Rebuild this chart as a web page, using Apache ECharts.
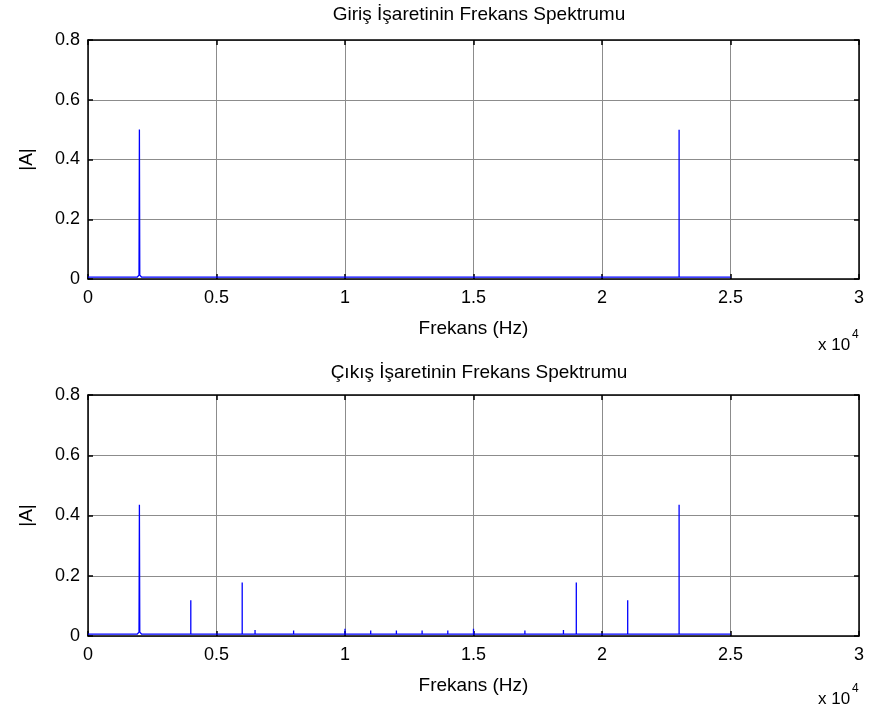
<!DOCTYPE html>
<html>
<head>
<meta charset="utf-8">
<title>Frekans Spektrumu</title>
<script src="https://cdn.jsdelivr.net/npm/echarts@6/dist/echarts.min.js"></script>
<style>
	html, body { margin: 0; padding: 0; background: #fff; }
	#main { width: 875px; height: 718px; }
</style>
</head>
<body>
<div id="main"></div>
<script>
// values
var titles = ['Giriş İşaretinin Frekans Spektrumu', 'Çıkış İşaretinin Frekans Spektrumu'];
var xTicks = [0, 5000, 10000, 15000, 20000, 25000, 30000];
var yTicks = [0, 0.2, 0.4, 0.6, 0.8];
var noiseFloor = 0.006;
var freqEnd = 25000;

// giris
var inFreq = [2000, 23000];
var inAmp = [0.5, 0.5];
var inShoulder = [0.013, 0];

// cikis
var outFreq = [2000, 4000, 6000, 6500, 8000, 10000, 11000, 12000, 13000, 14000, 15000, 17000, 18500, 19000, 21000, 23000];
var outAmp = [0.436, 0.119, 0.178, 0.02, 0.018, 0.024, 0.018, 0.018, 0.018, 0.018, 0.024, 0.018, 0.02, 0.178, 0.119, 0.436];
var outShoulder = [0.013, 0, 0, 0, 0, 0, 0, 0, 0, 0, 0, 0, 0, 0, 0, 0];

function build_line(freqs, amps, shoulders) {
	var pts = [[0, noiseFloor]];
	freqs.forEach(function(f, i) {
		if (shoulders[i] > 0) {
			pts.push([f - 90, noiseFloor]);
			pts.push([f - 15, shoulders[i]]);
		} else {
			pts.push([f, noiseFloor]);
		}
		pts.push([f, amps[i]]);
		if (shoulders[i] > 0) {
			pts.push([f + 15, shoulders[i]]);
			pts.push([f + 90, noiseFloor]);
		} else {
			pts.push([f, noiseFloor]);
		}
	});
	pts.push([freqEnd, noiseFloor]);
	return pts;
}

var font = 'Liberation Sans, Arial, sans-serif';
var grids = [
	{ left: 88, right: 16, top: 40, height: 239 },
	{ left: 88, right: 16, top: 395, height: 241 },
];

var xAxes = [];
var yAxes = [];
var series = [];
var lineData = [build_line(inFreq, inAmp, inShoulder), build_line(outFreq, outAmp, outShoulder)];

grids.forEach(function(g, i) {
	// bottom x axis with labels
	xAxes.push({
		type: 'value', gridIndex: i, min: 0, max: 30000, interval: 5000,
		position: 'bottom',
		name: 'Frekans (Hz)', nameLocation: 'middle', nameGap: 40,
		nameTextStyle: { fontFamily: font, fontSize: 19, color: '#000' },
		axisLine: { show: true, onZero: false, lineStyle: { color: '#000', width: 1.5 } },
		axisTick: { show: true, inside: true, length: 5, lineStyle: { color: '#000', width: 1.5 } },
		axisLabel: {
			fontFamily: font, fontSize: 18, color: '#000', margin: 10,
			formatter: function(v) { return String(v / 10000); },
		},
		splitLine: { show: true, lineStyle: { color: '#8c8c8c', width: 1 } },
	});
	// top x axis, box only
	xAxes.push({
		type: 'value', gridIndex: i, min: 0, max: 30000, interval: 5000,
		position: 'top',
		axisLine: { show: true, onZero: false, lineStyle: { color: '#000', width: 1.5 } },
		axisTick: { show: true, inside: true, length: 5, lineStyle: { color: '#000', width: 1.5 } },
		axisLabel: { show: false },
		splitLine: { show: false },
	});
	yAxes.push({
		type: 'value', gridIndex: i, min: 0, max: 0.8, interval: 0.2,
		position: 'left',
		name: '|A|', nameLocation: 'middle', nameGap: 52,
		nameTextStyle: { fontFamily: font, fontSize: 19, color: '#000' },
		axisLine: { show: true, onZero: false, lineStyle: { color: '#000', width: 1.5 } },
		axisTick: { show: true, inside: true, length: 5, lineStyle: { color: '#000', width: 1.5 } },
		axisLabel: {
			fontFamily: font, fontSize: 18, color: '#000', margin: 8,
			formatter: function(v) { return String(Math.round(v * 10) / 10); },
		},
		splitLine: { show: true, lineStyle: { color: '#8c8c8c', width: 1 } },
	});
	yAxes.push({
		type: 'value', gridIndex: i, min: 0, max: 0.8, interval: 0.2,
		position: 'right',
		axisLine: { show: true, onZero: false, lineStyle: { color: '#000', width: 1.5 } },
		axisTick: { show: true, inside: true, length: 5, lineStyle: { color: '#000', width: 1.5 } },
		axisLabel: { show: false },
		splitLine: { show: false },
	});
	series.push({
		type: 'line',
		xAxisIndex: i * 2,
		yAxisIndex: i * 2,
		data: lineData[i],
		showSymbol: false,
		animation: false,
		lineStyle: { color: '#0000ff', width: 1.3 },
		z: 5,
	});
});

var chart = echarts.init(document.getElementById('main'));
chart.setOption({
	backgroundColor: '#fff',
	animation: false,
	title: [
		{ text: titles[0], left: 474, top: 0, textAlign: 'center', textStyle: { fontFamily: font, fontSize: 19, fontWeight: 'normal', color: '#000' } },
		{ text: titles[1], left: 474, top: 358, textAlign: 'center', textStyle: { fontFamily: font, fontSize: 19, fontWeight: 'normal', color: '#000' } },
	],
	grid: grids,
	xAxis: xAxes,
	yAxis: yAxes,
	series: series,
	graphic: [
		{ type: 'text', left: 818, top: 337, style: { text: 'x 10', fontFamily: font, fontSize: 17, fill: '#000' } },
		{ type: 'text', left: 852, top: 329, style: { text: '4', fontFamily: font, fontSize: 12, fill: '#000' } },
		{ type: 'text', left: 818, top: 691, style: { text: 'x 10', fontFamily: font, fontSize: 17, fill: '#000' } },
		{ type: 'text', left: 852, top: 683, style: { text: '4', fontFamily: font, fontSize: 12, fill: '#000' } },
	],
});
</script>
</body>
</html>
